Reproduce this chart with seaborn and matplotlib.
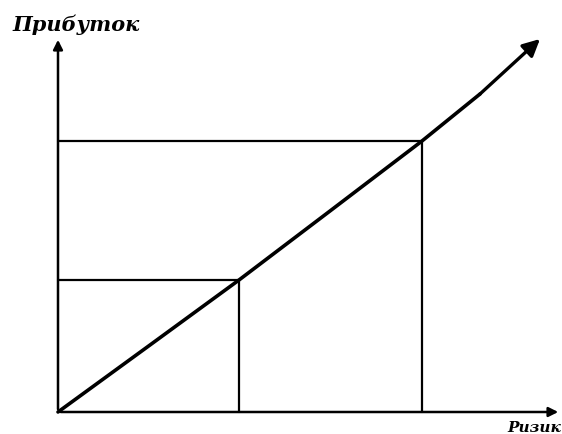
import pandas as pd
import matplotlib
matplotlib.use('Agg')
import matplotlib.pyplot as plt
import seaborn as sns

# Крива "ризик - прибуток"
risk = [0, 9.2, 18.1, 27.2, 36.4, 42.2, 48.2]
profit = [0, 6.7, 13.2, 20.1, 27.1, 31.8, 37.3]

# Дві точки на кривій, від яких опущено перпендикуляри до осей
point_risk = [18.1, 36.4]
point_profit = [13.2, 27.1]

axis_labels = ['Ризик', 'Прибуток']

df = pd.DataFrame({'risk': risk, 'profit': profit})

sns.set_style("white")

fig = plt.figure(figsize=(5.62, 4.35), dpi=100)
ax = fig.add_axes([0, 0, 1, 1])
ax.set_xlim(-5.8, 50.4)
ax.set_ylim(-2.2, 41.3)
ax.axis('off')

# осі зі стрілками
ax.annotate('', xy=(50.3, 0), xytext=(0, 0),
            arrowprops=dict(arrowstyle='-|>', color='black', lw=1.8, mutation_scale=14))
ax.annotate('', xy=(0, 37.5), xytext=(0, 0),
            arrowprops=dict(arrowstyle='-|>', color='black', lw=1.8, mutation_scale=14))

# прямокутники
for px, py in zip(point_risk, point_profit):
    ax.plot([0, px], [py, py], color='black', lw=1.6)
    ax.plot([px, px], [0, py], color='black', lw=1.6)

# крива (останній відрізок малюємо стрілкою)
sns.lineplot(data=df.iloc[:-1], x='risk', y='profit', sort=False, color='black', lw=2.6, ax=ax)
ax.annotate('', xy=(risk[-1], profit[-1]), xytext=(risk[-2], profit[-2]),
            arrowprops=dict(arrowstyle='-|>,head_length=0.6,head_width=0.3', color='black',
                            lw=2.4, mutation_scale=17, shrinkA=0, shrinkB=0))

ax.text(-4.6, 38.8, axis_labels[1], fontsize=15, fontweight='bold', fontstyle='italic',
        family='DejaVu Serif', color='black', ha='left', va='center')
ax.text(50.3, -1.95, axis_labels[0], fontsize=11, fontweight='bold', fontstyle='italic',
        family='DejaVu Serif', color='black', ha='right', va='baseline')

fig.savefig('out.png', dpi=100)
